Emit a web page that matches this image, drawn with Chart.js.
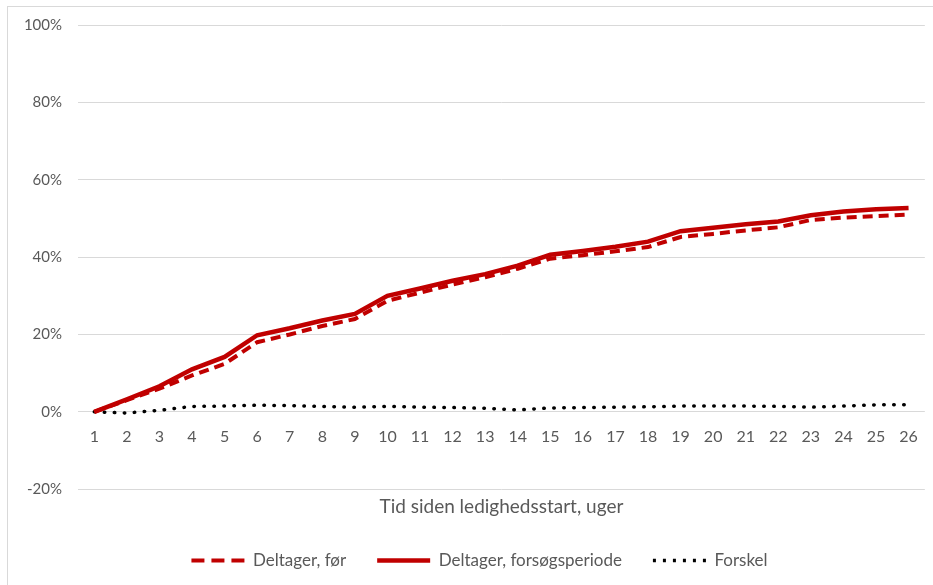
<!DOCTYPE html>
<html>
<head>
<meta charset="utf-8">
<script src="https://cdn.jsdelivr.net/npm/chart.js@4.4.1/dist/chart.umd.min.js"></script>
<style>
  html, body { margin: 0; padding: 0; background: #ffffff; }
  #wrap { position: relative; width: 933px; height: 585px; overflow: hidden; }
  #frame { position: absolute; left: 7px; top: 6px; width: 1000px; height: 700px;
           border-left: 1px solid #d9d9d9; border-top: 1px solid #d9d9d9; }
  #c { position: absolute; left: 0; top: 0; }
</style>
</head>
<body>
<div id="wrap">
  <div id="frame"></div>
  <canvas id="c" width="933" height="585"></canvas>
</div>
<script>
const weeks = ['1','2','3','4','5','6','7','8','9','10','11','12','13','14','15','16','17','18','19','20','21','22','23','24','25','26'];
const deltagerFoer = [0, 3.0, 6.0, 9.4, 12.4, 18.0, 20.0, 22.2, 24.0, 28.7, 30.8, 32.9, 34.8, 37.0, 39.6, 40.5, 41.5, 42.6, 45.2, 46.0, 46.9, 47.7, 49.6, 50.2, 50.6, 51.0];
const deltagerForsoeg = [0, 3.2, 6.6, 11.0, 14.2, 19.8, 21.6, 23.6, 25.3, 30.0, 31.9, 33.9, 35.6, 37.8, 40.6, 41.6, 42.7, 44.0, 46.7, 47.6, 48.5, 49.2, 50.8, 51.8, 52.4, 52.7];
const forskel = [0, -0.3, 0.4, 1.4, 1.5, 1.7, 1.6, 1.4, 1.2, 1.4, 1.2, 1.1, 0.9, 0.5, 1.0, 1.1, 1.2, 1.3, 1.5, 1.5, 1.5, 1.4, 1.2, 1.5, 1.8, 1.8];
const seriesNames = ['Deltager, før', 'Deltager, forsøgsperiode', 'Forskel'];
const yTicks = { min: -20, max: 100, step: 20 };
const xTitle = 'Tid siden ledighedsstart, uger';

const grey = '#595959';
const red = '#C00000';
const legendDashes = [[13, 7], [], [3, 7]];

const legendShift = {
  id: 'legendShift',
  afterLayout(chart) {
    if (chart.legend) { chart.legend.left += 6; chart.legend.right += 6; }
  }
};

new Chart(document.getElementById('c'), {
  type: 'line',
  data: {
    labels: weeks,
    datasets: [
      { label: seriesNames[0], data: deltagerFoer, borderColor: red, backgroundColor: 'rgba(0,0,0,0)',
        borderWidth: 4, borderDash: [10, 6], pointRadius: 0, tension: 0, borderCapStyle: 'butt' },
      { label: seriesNames[1], data: deltagerForsoeg, borderColor: red, backgroundColor: 'rgba(0,0,0,0)',
        borderWidth: 4.5, pointRadius: 0, tension: 0, borderCapStyle: 'butt' },
      { label: seriesNames[2], data: forskel, borderColor: '#000000', backgroundColor: 'rgba(0,0,0,0)',
        borderWidth: 3.5, borderDash: [0.5, 9.5], borderCapStyle: 'round', pointRadius: 0, tension: 0 }
    ]
  },
  plugins: [legendShift],
  options: {
    responsive: false,
    animation: false,
    layout: { padding: { left: 22, right: 8, top: 25, bottom: 6 } },
    scales: {
      x: {
        position: { y: 0 },
        offset: true,
        grid: { display: false, drawTicks: false },
        border: { display: false },
        ticks: { color: grey, font: { family: 'Lato', size: 16 }, padding: 15, maxRotation: 0, autoSkip: false }
      },
      y: {
        min: yTicks.min, max: yTicks.max,
        afterFit: (s) => { s.width = 56; },
        grid: { color: '#d9d9d9', lineWidth: 1, drawTicks: false },
        border: { display: false },
        ticks: { stepSize: yTicks.step, color: grey, font: { family: 'Lato', size: 15 }, padding: 16,
                 callback: (v) => v + '%' }
      }
    },
    plugins: {
      legend: {
        position: 'bottom',
        weight: 1000,
        labels: {
          color: grey, font: { family: 'Lato', size: 17 },
          usePointStyle: true, pointStyle: 'line', pointStyleWidth: 53,
          padding: 31,
          generateLabels: (chart) => {
            const items = Chart.defaults.plugins.legend.labels.generateLabels(chart);
            items.forEach((it, i) => {
              it.lineDash = legendDashes[i];
              it.lineDashOffset = 0;
              it.lineCap = 'butt';
              if (i === 2) it.lineWidth = 3.5;
            });
            return items;
          }
        }
      },
      title: {
        display: true,
        position: 'bottom',
        fullSize: false,
        weight: 500,
        text: xTitle,
        color: grey,
        font: { family: 'Lato', size: 19, weight: 'normal' },
        padding: { top: 6, bottom: 3 }
      },
      tooltip: { enabled: false }
    }
  }
});
</script>
</body>
</html>
